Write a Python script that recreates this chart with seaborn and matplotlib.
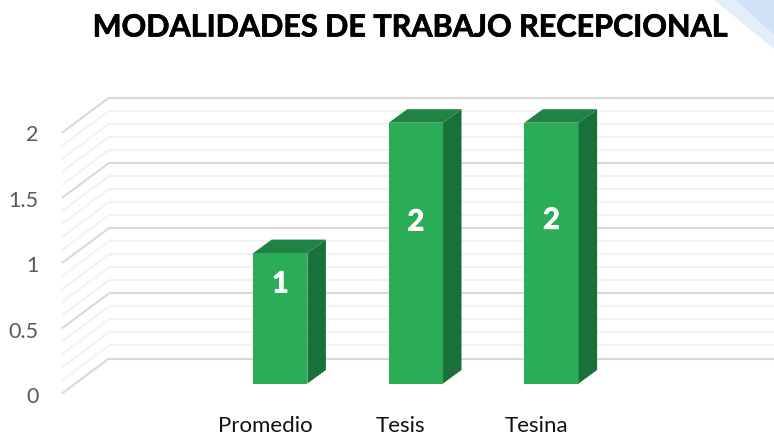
import matplotlib
matplotlib.use("Agg")
import matplotlib.pyplot as plt
import matplotlib.patheffects as pe
from matplotlib.patches import Polygon
import numpy as np
import pandas as pd
import seaborn as sns

# data
categorias = ["Promedio", "Tesis", "Tesina"]
valores = [1, 2, 2]
etiquetas = ["1", "2", "2"]
ticks_valor = [0, 0.5, 1, 1.5, 2]
ticks_texto = ["0", "0.5", "1", "1.5", "2"]
titulo = "MODALIDADES DE TRABAJO RECEPCIONAL"

# pixel layout of the fake 3d box
W, H = 774, 435
PX_UNIT = 130.4      # pixels per value unit
PX_CAT = 135.6       # pixels per category
X0, Y0 = 280.3, 384.5  # first bar centre / bar baseline
DEPTH_X, DEPTH_Y = 18.5, 13.5   # bar side and top offset

VERDE = "#2BAD58"
VERDE_TOP = "#1E8343"
VERDE_SIDE = "#1A7039"

sns.set_theme(style="white")
plt.rcParams["font.family"] = ["Lato", "DejaVu Sans"]

df = pd.DataFrame({"modalidad": categorias, "valor": valores})

fig = plt.figure(figsize=(W / 100, H / 100), dpi=100)
fig.patch.set_facecolor("white")

# light blue corner from the slide background
fig.add_artist(Polygon([(713 / W, 1), (1, 1), (1, 1 - 50 / H)], closed=True,
                       transform=fig.transFigure, facecolor="#E4EEF9", edgecolor="none"))
fig.add_artist(Polygon([(735 / W, 1), (1, 1), (1, 1 - 36 / H)], closed=True,
                       transform=fig.transFigure, facecolor="#CFE1F5", edgecolor="none"))

ax = fig.add_axes([0, 0, 1, 1])
ax.patch.set_alpha(0)
sns.barplot(data=df, x="modalidad", y="valor", order=categorias, width=0.4,
            color=VERDE, saturation=1, linewidth=0, ax=ax, zorder=3)
ax.set_xlim(-X0 / PX_CAT, (W - X0) / PX_CAT)
ax.set_ylim((Y0 - H) / PX_UNIT, Y0 / PX_UNIT)
ax.axis("off")

# back wall and left wall grid
dx = DEPTH_X / PX_CAT
dy = DEPTH_Y / PX_UNIT
back_v = 25 / PX_UNIT
front_v = -10 / PX_UNIT
back_c = (109 - X0) / PX_CAT
front_c = (62 - X0) / PX_CAT
for v in np.arange(0, 2.01, 0.1):
    mayor = abs(v * 2 - round(v * 2)) < 1e-6
    color = "#D9D9D9" if mayor else "#F2F2F2"
    z = 2 if mayor else 1
    ax.plot([front_c, back_c], [v + front_v, v + back_v], color=color, lw=1.5, zorder=z,
            solid_capstyle="butt")
    ax.plot([back_c, ax.get_xlim()[1]], [v + back_v, v + back_v], color=color, lw=1.5, zorder=z,
            solid_capstyle="butt")

# side and top faces follow the seaborn bars
for bar, etiqueta in zip(ax.patches, etiquetas):
    x0 = bar.get_x()
    x1 = x0 + bar.get_width()
    h = bar.get_height()
    ax.add_patch(Polygon([(x1, 0), (x1 + dx, dy), (x1 + dx, h + dy), (x1, h)],
                         facecolor=VERDE_SIDE, edgecolor="none", zorder=3))
    ax.add_patch(Polygon([(x0, h), (x0 + dx, h + dy), (x1 + dx, h + dy), (x1, h)],
                         facecolor=VERDE_TOP, edgecolor="none", zorder=3))

# data labels sit by hand in the original
label_pos = [0.76, 1.235, 1.248]
for i, (etiqueta, pos) in enumerate(zip(etiquetas, label_pos)):
    ax.text(i, pos, etiqueta, color="white", fontsize=21, fontweight="bold",
            ha="center", va="center", zorder=5,
            path_effects=[pe.withStroke(linewidth=0.6, foreground="white")])

# axis frame, offset from the bars
frame = fig.add_axes([47 / W, 1 - 395 / H, (W - 47) / W, 261.5 / H])
frame.patch.set_alpha(0)
frame.set_xlim((47 - 265) / PX_CAT, (W - 265) / PX_CAT)
frame.set_ylim(0, 2)
frame.set_xticks(range(len(categorias)))
frame.set_xticklabels(categorias, fontsize=16, color="#111111")
frame.set_yticks(ticks_valor)
frame.set_yticklabels(ticks_texto, fontsize=15.5, color="#595959")
frame.tick_params(axis="x", length=0, pad=15)
frame.tick_params(axis="y", length=0, pad=6)
sns.despine(ax=frame, left=True, bottom=True)

fig.text(410 / W, 1 - 28.5 / H, titulo, ha="center", va="center", fontsize=22,
         fontweight="bold", color="black",
         path_effects=[pe.withStroke(linewidth=0.5, foreground="black")])

fig.savefig("out.png", dpi=100)
